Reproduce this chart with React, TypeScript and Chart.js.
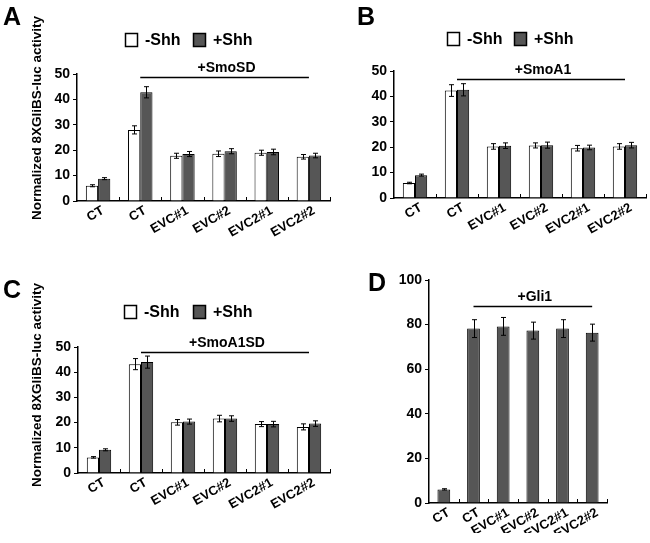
import React, { useEffect, useRef } from "react";
import { Chart, registerables } from "chart.js";
Chart.register(...registerables);

// ---------------- data ----------------
const categories = ["CT", "CT", "EVC#1", "EVC#2", "EVC2#1", "EVC2#2"];
const seriesNames = ["-Shh", "+Shh"];
const yTitle = "Normalized 8XGliBS-luc activity";

const aMinus = [6.0, 28.0, 17.8, 18.6, 19.0, 17.4];
const aMinusErr = [0.4, 1.6, 1.0, 1.1, 1.0, 0.9];
const aPlus = [8.8, 42.8, 18.5, 19.6, 19.3, 17.9];
const aPlusErr = [0.4, 2.2, 1.0, 1.0, 1.1, 0.9];

const bMinus = [5.9, 42.3, 20.3, 20.7, 19.6, 20.3];
const bMinusErr = [0.3, 2.3, 1.1, 1.0, 1.1, 1.1];
const bPlus = [9.0, 42.6, 20.6, 20.8, 19.9, 20.8];
const bPlusErr = [0.4, 2.4, 1.1, 1.2, 0.9, 1.1];

const cMinus = [6.2, 43.2, 20.1, 21.6, 19.4, 18.3];
const cMinusErr = [0.3, 2.2, 1.1, 1.3, 1.0, 1.2];
const cPlus = [9.2, 44.0, 20.4, 21.6, 19.4, 19.6];
const cPlusErr = [0.4, 2.4, 1.0, 1.1, 1.1, 1.1];

const dValues = [6.1, 78.2, 79.2, 77.3, 78.2, 76.4];
const dErr = [0.3, 4.0, 4.0, 3.8, 4.0, 3.8];

const bracketLabels = ["+SmoSD", "+SmoA1", "+SmoA1SD", "+Gli1"];

// ---------------- styling / layout ----------------
const FONT = 'Arial, "Liberation Sans", sans-serif';
const W = 650;
const H = 543;
const DARK = "#565656";

type PanelCfg = {
  letter: string;
  letterPos: [number, number];
  plot: { l: number; r: number; t: number; b: number };
  yW: number;
  xH: number;
  yMax: number;
  step: number;
  series: { data: number[]; err: number[]; color: string; name: string }[];
  catPct: number;
  labelOffset: number;
  legend?: { x1: number; x2: number; y: number };
  bracketLabel: string;
  bracketY: number;
  titleCenter?: [number, number];
};

const panels: PanelCfg[] = [
  {
    letter: "A",
    letterPos: [3, 25],
    plot: { l: 77, r: 330, t: 74, b: 201 },
    yW: 30,
    xH: 50,
    yMax: 50,
    step: 10,
    series: [
      { data: aMinus, err: aMinusErr, color: "#ffffff", name: seriesNames[0] },
      { data: aPlus, err: aPlusErr, color: DARK, name: seriesNames[1] },
    ],
    catPct: 0.58,
    labelOffset: 5,
    legend: { x1: 125, x2: 193, y: 33 },
    bracketLabel: bracketLabels[0],
    bracketY: 77,
    titleCenter: [37, 118],
  },
  {
    letter: "B",
    letterPos: [357, 25],
    plot: { l: 394, r: 646, t: 71, b: 198 },
    yW: 30,
    xH: 50,
    yMax: 50,
    step: 10,
    series: [
      { data: bMinus, err: bMinusErr, color: "#ffffff", name: seriesNames[0] },
      { data: bPlus, err: bPlusErr, color: DARK, name: seriesNames[1] },
    ],
    catPct: 0.58,
    labelOffset: 6,
    legend: { x1: 447, x2: 514, y: 32 },
    bracketLabel: bracketLabels[1],
    bracketY: 79,
  },
  {
    letter: "C",
    letterPos: [3, 298],
    plot: { l: 78, r: 330, t: 347, b: 473 },
    yW: 30,
    xH: 50,
    yMax: 50,
    step: 10,
    series: [
      { data: cMinus, err: cMinusErr, color: "#ffffff", name: seriesNames[0] },
      { data: cPlus, err: cPlusErr, color: DARK, name: seriesNames[1] },
    ],
    catPct: 0.58,
    labelOffset: 5,
    legend: { x1: 124, x2: 193, y: 305 },
    bracketLabel: bracketLabels[2],
    bracketY: 352,
    titleCenter: [37, 385],
  },
  {
    letter: "D",
    letterPos: [368, 291],
    plot: { l: 429, r: 607, t: 280, b: 503 },
    yW: 36,
    xH: 30,
    yMax: 100,
    step: 20,
    series: [{ data: dValues, err: dErr, color: DARK, name: seriesNames[1] }],
    catPct: 0.43,
    labelOffset: 5,
    bracketLabel: bracketLabels[3],
    bracketY: 306,
  },
];

function makePlugin(cfg: PanelCfg) {
  return {
    id: "panelDecor" + cfg.letter,
    afterDatasetsDraw(chart: any) {
      const ctx = chart.ctx;
      const xs = chart.scales.x;
      const ys = chart.scales.y;
      ctx.save();
      ctx.strokeStyle = "#000";
      ctx.lineWidth = 1;
      // error bars
      cfg.series.forEach((s, di) => {
        const meta = chart.getDatasetMeta(di);
        meta.data.forEach((bar: any, i: number) => {
          const v = s.data[i];
          const e = s.err[i];
          const top = ys.getPixelForValue(v + e);
          const bot = ys.getPixelForValue(v - e);
          const bx = Math.round(bar.x) + 0.5;
          ctx.beginPath();
          ctx.moveTo(bx, top);
          ctx.lineTo(bx, bot);
          ctx.moveTo(bx - 2.5, top);
          ctx.lineTo(bx + 2.5, top);
          ctx.moveTo(bx - 2.5, bot);
          ctx.lineTo(bx + 2.5, bot);
          ctx.stroke();
        });
      });
      // inner x tick marks at category boundaries
      const area = chart.chartArea;
      const n = categories.length;
      ctx.beginPath();
      for (let i = 1; i <= n; i++) {
        const px =
          i < n
            ? (xs.getPixelForValue(i - 1) + xs.getPixelForValue(i)) / 2
            : area.right;
        const rx = Math.round(px) + 0.5;
        ctx.moveTo(rx, area.bottom);
        ctx.lineTo(rx, area.bottom - 4);
      }
      ctx.stroke();
      ctx.restore();
    },
    afterDraw(chart: any) {
      const ctx = chart.ctx;
      const xs = chart.scales.x;
      ctx.save();
      ctx.fillStyle = "#000";
      ctx.strokeStyle = "#000";
      // panel letter
      ctx.font = `bold 25px ${FONT}`;
      ctx.textAlign = "left";
      ctx.textBaseline = "alphabetic";
      ctx.fillText(cfg.letter, cfg.letterPos[0], cfg.letterPos[1]);
      // legend
      if (cfg.legend) {
        const lg = cfg.legend;
        const xsPos = [lg.x1, lg.x2];
        ctx.font = `bold 16px ${FONT}`;
        cfg.series.forEach((s, i) => {
          const sx = xsPos[i];
          ctx.fillStyle = s.color;
          ctx.fillRect(sx, lg.y, 12, 13);
          ctx.lineWidth = 1.5;
          ctx.strokeStyle = "#000";
          ctx.strokeRect(sx + 0.5, lg.y + 0.5, 12, 13);
          ctx.fillStyle = "#000";
          ctx.fillText(s.name, sx + 20, lg.y + 12);
        });
      }
      // bracket
      const x1 = xs.getPixelForValue(1);
      const x2 = xs.getPixelForValue(5);
      ctx.lineWidth = 1.5;
      ctx.beginPath();
      ctx.moveTo(x1, cfg.bracketY + 0.5);
      ctx.lineTo(x2, cfg.bracketY + 0.5);
      ctx.stroke();
      ctx.font = `bold 14px ${FONT}`;
      ctx.textAlign = "center";
      ctx.fillText(cfg.bracketLabel, (x1 + x2) / 2 + 2, cfg.bracketY - 5);
      // y title
      if (cfg.titleCenter) {
        ctx.translate(cfg.titleCenter[0], cfg.titleCenter[1]);
        ctx.rotate(-Math.PI / 2);
        ctx.font = `bold 13.5px ${FONT}`;
        ctx.textAlign = "center";
        ctx.textBaseline = "middle";
        ctx.fillText(yTitle, 0, 0);
      }
      ctx.restore();
    },
  };
}

function Panel({ cfg }: { cfg: PanelCfg }) {
  const ref = useRef<HTMLCanvasElement | null>(null);
  useEffect(() => {
    if (!ref.current) return;
    const p = cfg.plot;
    const chart = new Chart(ref.current, {
      type: "bar",
      data: {
        labels: categories,
        datasets: cfg.series.map((s) => ({
          label: s.name,
          data: s.data,
          backgroundColor: s.color,
          borderColor: "#000",
          borderWidth: 1,
          categoryPercentage: cfg.catPct,
          barPercentage: 1.0,
        })),
      },
      options: {
        responsive: false,
        animation: false,
        devicePixelRatio: 1,
        events: [],
        layout: {
          padding: {
            left: p.l - cfg.yW,
            right: W - p.r,
            top: p.t,
            bottom: H - p.b - cfg.xH,
          },
        },
        plugins: {
          legend: { display: false },
          tooltip: { enabled: false },
          title: { display: false },
        },
        scales: {
          x: {
            type: "category",
            offset: true,
            grid: { display: true, drawOnChartArea: false, drawTicks: false },
            border: { display: true, color: "#000", width: 1.5 },
            ticks: {
              color: "#000",
              font: { family: FONT, size: 13, weight: "bold" },
              minRotation: 30,
              maxRotation: 30,
              autoSkip: false,
              padding: 2,
              labelOffset: cfg.labelOffset,
            },
            afterFit: (s: any) => {
              s.height = cfg.xH;
            },
          },
          y: {
            min: 0,
            max: cfg.yMax,
            grid: {
              display: true,
              drawOnChartArea: false,
              drawTicks: true,
              tickLength: 4,
              color: "#000",
            },
            border: { display: true, color: "#000", width: 1.5 },
            ticks: {
              stepSize: cfg.step,
              color: "#000",
              font: { family: FONT, size: 14, weight: "bold" },
              padding: 3,
            },
            afterFit: (s: any) => {
              s.width = cfg.yW;
            },
          },
        },
      } as any,
      plugins: [makePlugin(cfg)],
    });
    return () => chart.destroy();
  }, [cfg]);
  return (
    <canvas
      ref={ref}
      width={W}
      height={H}
      style={{ position: "absolute", left: 0, top: 0, width: W, height: H }}
    />
  );
}

export default function App() {
  return (
    <div
      style={{
        position: "absolute",
        left: 0,
        top: 0,
        width: W,
        height: H,
        background: "#fff",
        overflow: "hidden",
      }}
    >
      {panels.map((cfg) => (
        <Panel key={cfg.letter} cfg={cfg} />
      ))}
    </div>
  );
}
